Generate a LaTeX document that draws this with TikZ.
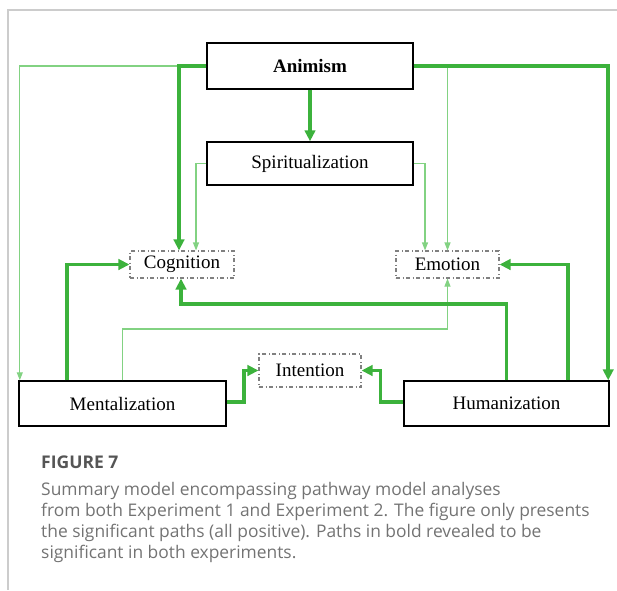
\documentclass[tikz,border=0pt]{standalone}
\usepackage{fontspec}
\setmainfont{Liberation Serif}
\newfontfamily\capfont{Open Sans}
\usetikzlibrary{arrows.meta}
\definecolor{gthick}{RGB}{60,178,60}
\definecolor{gthin}{RGB}{130,210,130}
\definecolor{capgray}{RGB}{115,115,115}
\definecolor{capdark}{RGB}{85,85,85}
\tikzset{
  solidbox/.style={draw=black, line width=1.4pt, fill=white, inner sep=0pt, font=\fontsize{19}{22}\selectfont},
  dashbox/.style={draw=black!50, line width=1.1pt, dash pattern=on 4pt off 2.5pt on 1pt off 2.5pt, inner sep=0pt, font=\fontsize{19}{22}\selectfont},
  strong/.style={draw=gthick, line width=3.6pt, -{Triangle[length=11pt,width=10.5pt]}},
  weak/.style={draw=gthin, line width=1.1pt, -{Triangle[length=8pt,width=6pt]}},
  captext/.style={anchor=base west, inner sep=0pt, text=capgray, font=\capfont\fontsize{17.4}{21}\selectfont},
  frame/.style={draw=black!20, line width=1.2pt}
}
\begin{document}
\begin{tikzpicture}[x=1pt,y=-1pt]
\useasboundingbox (0,0) rectangle (617,590);
\coordinate (ftop) at (8,10);
\coordinate (fright) at (617,10);
\coordinate (fbot) at (8,590);
\draw[frame] (fright) -- (ftop) -- (fbot);

\node[solidbox, minimum width=206pt, minimum height=46pt] (anim) at (310,66) {\textbf{Animism}};
\node[solidbox, minimum width=206pt, minimum height=43pt] (spir) at (310,163.5) {Spiritualization};
\node[dashbox, minimum width=104pt, minimum height=27pt] (cog) at (182,264.5) {Cognition};
\node[dashbox, minimum width=103pt, minimum height=27pt] (emo) at (447.5,264.5) {Emotion};
\node[dashbox, minimum width=102pt, minimum height=33pt] (int) at (310,370.5) {Intention};
\node[solidbox, minimum width=207pt, minimum height=45pt] (ment) at (122.5,403.5) {Mentalization};
\node[solidbox, minimum width=205pt, minimum height=45pt] (hum) at (506.5,403.5) {Humanization};

% weak paths
\draw[weak] (anim.west) -| ([xshift=1.5pt]ment.north west);
\draw[weak] (spir.west) -| ([xshift=14pt]cog.north);
\draw[weak] (spir.east) -| ([xshift=-22.5pt]emo.north);
\draw[weak] (anim.east) -| (emo.north);
\coordinate (mbend) at (122.5,329);
\draw[weak] (ment.north) -- (mbend) -| (emo.south);

% strong paths
\draw[strong] (anim.south) -- (spir.north);
\draw[strong] (anim.west) -| ([xshift=-3pt]cog.north);
\draw[strong] (anim.east) -| ([xshift=-1.5pt]hum.north east);
\draw[strong] ([xshift=-55.5pt]ment.north) |- (cog.west);
\coordinate (hbend) at (506.5,304);
\draw[strong] (hum.north) -- (hbend) -| ([xshift=-1pt]cog.south);
\draw[strong] ([xshift=61.5pt]hum.north) |- (emo.east);
\draw[strong] ([yshift=1.5pt]ment.east) -- ++(17,0) |- (int.west);
\draw[strong] ([yshift=1.5pt]hum.west) -- ++(-23,0) |- (int.east);

% caption
\node[captext, text=capdark, font=\capfont\bfseries\fontsize{17.5}{21}\selectfont] (fig) at (41,468) {FIGURE 7};
\node[captext] (c1) at (41,495.5) {Summary model encompassing pathway model analyses};
\node[captext] (c2) at (41,516.5) {from both Experiment 1 and Experiment 2. The figure only presents};
\node[captext] (c3) at (41,537.5) {the significant paths (all positive). Paths in bold revealed to be};
\node[captext] (c4) at (41,558) {significant in both experiments.};
\end{tikzpicture}
\end{document}
